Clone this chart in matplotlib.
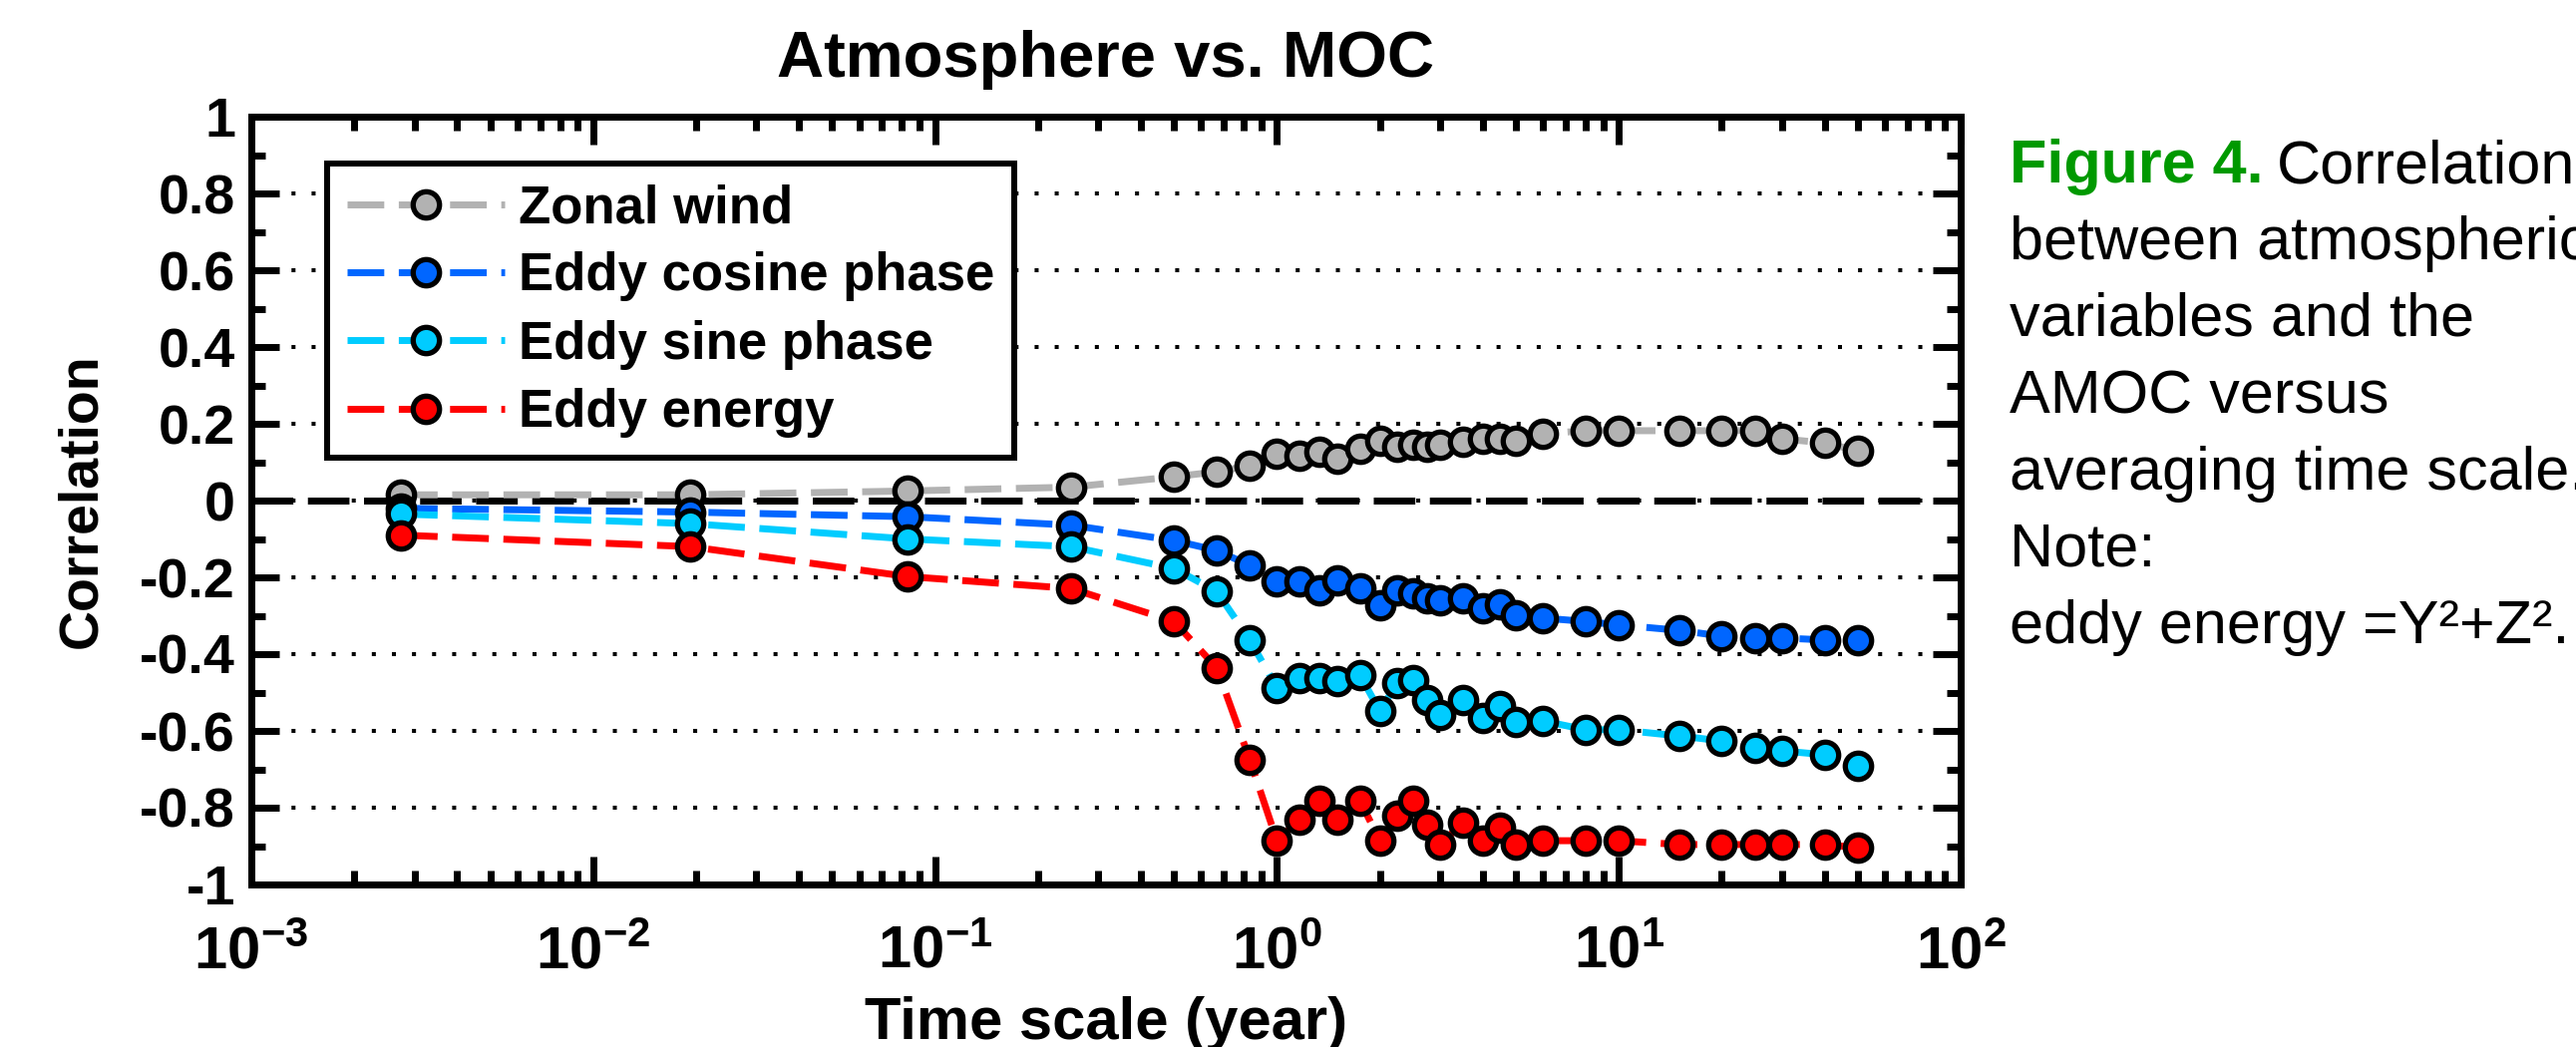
import numpy as np
import matplotlib
matplotlib.use("Agg")
import matplotlib.pyplot as plt
from matplotlib.ticker import FuncFormatter, NullFormatter, AutoMinorLocator, LogLocator

# averaging time scale (years): 1 day, 1 week, 1 month, 3/6/8/10 months, then years
years = [1/365, 1/52, 1/12, 0.25, 0.5, 0.667, 0.833,
         1, 1.167, 1.333, 1.5, 1.75, 2, 2.25, 2.5, 2.75, 3, 3.5, 4, 4.5, 5, 6,
         8, 10, 15, 20, 25, 30, 40, 50]

zonal_wind = [0.015, 0.015, 0.025, 0.035, 0.062, 0.075, 0.091,
              0.122, 0.117, 0.127, 0.109, 0.135, 0.155, 0.14, 0.145, 0.14, 0.145, 0.153, 0.16, 0.161, 0.155, 0.174,
              0.182, 0.182, 0.182, 0.182, 0.182, 0.161, 0.15, 0.13]

eddy_cosine = [-0.02, -0.03, -0.042, -0.064, -0.104, -0.13, -0.169,
               -0.21, -0.21, -0.234, -0.208, -0.229, -0.273, -0.234, -0.242, -0.255, -0.26, -0.255, -0.28, -0.27, -0.298, -0.306,
               -0.315, -0.324, -0.338, -0.353, -0.358, -0.358, -0.363, -0.363]

eddy_sine = [-0.035, -0.06, -0.10, -0.12, -0.177, -0.237, -0.363,
             -0.488, -0.462, -0.462, -0.47, -0.455, -0.548, -0.475, -0.467, -0.52, -0.558, -0.52, -0.566, -0.535, -0.577, -0.574,
             -0.597, -0.597, -0.613, -0.626, -0.644, -0.652, -0.662, -0.691]

eddy_energy = [-0.09, -0.12, -0.198, -0.229, -0.315, -0.436, -0.675,
               -0.886, -0.831, -0.782, -0.831, -0.782, -0.886, -0.821, -0.782, -0.844, -0.896, -0.839, -0.886, -0.852, -0.896, -0.886,
               -0.886, -0.886, -0.896, -0.896, -0.896, -0.896, -0.896, -0.904]

series_labels = ["Zonal wind", "Eddy cosine phase", "Eddy sine phase", "Eddy energy"]
series_colors = ["#B2B2B2", "#0066FF", "#00CCFF", "#FF0000"]

caption_lines = ["between atmospheric", "variables and the", "AMOC versus",
                 "averaging time scale.", "Note:", "eddy energy =Y\u00b2+Z\u00b2."]

plt.rcParams["font.family"] = ["Liberation Sans", "DejaVu Sans"]
plt.rcParams["mathtext.fontset"] = "custom"
plt.rcParams["mathtext.rm"] = "Liberation Sans"
plt.rcParams["mathtext.bf"] = "Liberation Sans:bold"

W, H = 2583, 1050
fig = plt.figure(figsize=(W / 100, H / 100), dpi=100)
ax = fig.add_axes([252 / W, 1 - 887 / H, 1714 / W, 770 / H])

# grid and the zero line go under the data
ax.grid(axis="y", which="major", color="k", linestyle=(0, (1, 4)), linewidth=2.9, zorder=0)
ax.axhline(0, color="k", linewidth=5, dashes=(6, 2.1), zorder=1)

series = [zonal_wind, eddy_cosine, eddy_sine, eddy_energy]
for vals, lab, col in zip(series, series_labels, series_colors):
    ax.plot(years, vals, color=col, linewidth=5, dashes=(5.3, 2.1),
            marker="o", markersize=19, markerfacecolor=col,
            markeredgecolor="k", markeredgewidth=3.8, label=lab, zorder=3)

ax.set_xscale("log")
ax.set_xlim(1e-3, 1e2)
ax.set_ylim(-1, 1)
ax.set_yticks(np.arange(-1, 1.01, 0.2))
ax.yaxis.set_major_formatter(FuncFormatter(lambda v, p: "%g" % round(v, 1) if abs(v) > 1e-9 else "0"))
ax.yaxis.set_minor_locator(AutoMinorLocator(2))
ax.xaxis.set_major_locator(LogLocator(base=10, numticks=10))
ax.xaxis.set_minor_locator(LogLocator(base=10, subs=np.arange(2, 10), numticks=20))
ax.xaxis.set_major_formatter(FuncFormatter(lambda v, p: r"$\mathbf{10^{%d}}$" % round(np.log10(v))))
ax.xaxis.set_minor_formatter(NullFormatter())

ax.tick_params(which="both", direction="in", top=True, right=True, width=5)
ax.tick_params(which="major", length=20)
ax.tick_params(which="minor", length=10)
ax.tick_params(axis="y", labelsize=40, pad=11.5)
ax.tick_params(axis="x", labelsize=43, pad=30)
for lbl in ax.get_yticklabels():
    lbl.set_fontweight("bold")
for s in ax.spines.values():
    s.set_linewidth(5)

ax.set_title("Atmosphere vs. MOC", fontsize=47, fontweight="bold", pad=29)
ax.set_xlabel("Time scale (year)", fontsize=43, fontweight="bold")
ax.set_ylabel("Correlation", fontsize=40, fontweight="bold")
ax.xaxis.set_label_coords(0.5, -0.145)
ax.yaxis.set_label_coords(-0.084, 0.5)

leg = ax.legend(loc="upper left", bbox_to_anchor=(0.0443, 0.939), borderaxespad=0,
                prop={"size": 38, "weight": "bold"}, handlelength=3.0, handletextpad=0.25,
                labelspacing=0.35, borderpad=0.38, fancybox=False, framealpha=1,
                edgecolor="k", numpoints=1)
leg.get_frame().set_linewidth(4.3)

# caption on the right, partly running off the figure like the source
x0 = 2015 / W
base0 = 183
step = 77
t1 = fig.text(x0, 1 - base0 / H, "Figure 4.", fontsize=44, fontweight="bold",
              color="#009900", va="baseline")
ax.annotate("Correlation", xy=(1, 0), xycoords=t1, xytext=(13, 0),
            textcoords="offset pixels", fontsize=44, va="bottom", ha="left",
            annotation_clip=False)
for i, line in enumerate(caption_lines):
    fig.text(x0, 1 - (base0 + step * (i + 1)) / H, line, fontsize=44, va="baseline")

fig.savefig("out.png", dpi=100)
